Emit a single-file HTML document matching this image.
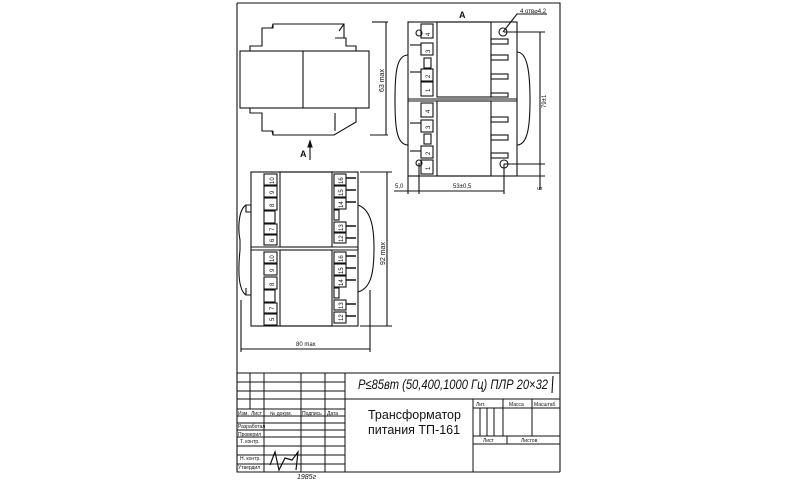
<!DOCTYPE html>
<html><head><meta charset="utf-8"><style>
html,body{margin:0;padding:0;background:#fff;width:800px;height:480px;overflow:hidden}
svg{display:block}
text{font-family:"Liberation Sans","DejaVu Sans",sans-serif;fill:#111}
</style></head><body>
<svg width="800" height="480" viewBox="0 0 800 480" xmlns="http://www.w3.org/2000/svg" stroke="#111" fill="none" stroke-width="1.1">
<!-- frame -->
<path d="M237 3 H560 V472 M237 3 V472 H560"/>
<!-- top-left view -->
<rect x="240" y="51" width="129" height="57"/>
<line x1="303" y1="51" x2="303" y2="108"/>
<path d="M250 51 V46 H262 V28 H272 L273 24 H344 V38 H346 V46 H356 V51"/>
<path d="M273 24 V28 H262 M344 24 L339 31 M335 38 H346"/>
<path d="M250 108 V113 H262 V131 H272 L273 135 H334 L356 122 V108 M273 131 H262 M335 113 V131"/>
<path d="M273 135 V131"/>
<line x1="372" y1="22" x2="388" y2="22"/><line x1="370" y1="135" x2="388" y2="135"/>
<line x1="386" y1="22" x2="386" y2="135"/>
<text x="0" y="0" font-size="7" stroke="none" transform="translate(384 92) rotate(-90)">63 max</text>
<text x="300" y="157" font-size="9" font-weight="bold" stroke="none">A</text>
<path d="M310 160 V143 M308 147 L310 141 L312 147Z" fill="#111"/>
<!-- top-right view A -->
<text x="459" y="18" font-size="9" font-weight="bold" stroke="none">A</text>
<rect x="408" y="22" width="109" height="154"/>
<line x1="408" y1="99" x2="517" y2="99"/><line x1="408" y1="101" x2="517" y2="101"/>
<rect x="437" y="22" width="54" height="75"/><rect x="437" y="101" width="54" height="75"/>
<path d="M408 55 C396 55 395 75 395 100 C395 125 396 145 408 145"/>
<path d="M517 52 C528 52 530 75 530 100 C530 125 528 145 517 145"/>
<g>
<rect x="421" y="43" width="12" height="12"/><rect x="421" y="69" width="12" height="12"/>
<rect x="421" y="82" width="12" height="14"/><rect x="421" y="24" width="12" height="14"/>
<rect x="421" y="103" width="12" height="14"/><rect x="421" y="120" width="12" height="12"/>
<rect x="421" y="146" width="12" height="12"/><rect x="421" y="160" width="12" height="14"/>
<rect x="424" y="58" width="7" height="10"/><rect x="424" y="134" width="7" height="10"/>
<line x1="410" y1="45" x2="421" y2="45"/><line x1="410" y1="72" x2="421" y2="72"/>
<line x1="410" y1="123" x2="421" y2="123"/><line x1="410" y1="151" x2="421" y2="151"/>
</g>
<g font-size="6" stroke="none" fill="#111">
<text transform="translate(430 36) rotate(-90)">4</text><text transform="translate(430 53) rotate(-90)">3</text>
<text transform="translate(430 78) rotate(-90)">2</text><text transform="translate(430 92) rotate(-90)">1</text>
<text transform="translate(430 113) rotate(-90)">4</text><text transform="translate(430 129) rotate(-90)">3</text>
<text transform="translate(430 155) rotate(-90)">2</text><text transform="translate(430 170) rotate(-90)">1</text>
</g>
<g>
<rect x="491" y="39" width="17" height="5"/><rect x="491" y="55" width="17" height="5"/>
<rect x="491" y="74" width="17" height="5"/><rect x="491" y="93" width="17" height="4"/>
<rect x="491" y="117" width="17" height="5"/><rect x="491" y="135" width="17" height="5"/>
<rect x="491" y="153" width="17" height="5"/>
</g>
<circle cx="419" cy="33" r="3"/><circle cx="503" cy="32" r="4"/>
<circle cx="419" cy="163" r="3"/><circle cx="504" cy="164" r="4"/>
<path d="M503 32 L517 14 H547"/>
<text x="520" y="13" font-size="6" stroke="none">4 отв⌀4,2</text>
<line x1="504" y1="32" x2="545" y2="32"/><line x1="504" y1="164" x2="545" y2="164"/>
<line x1="517" y1="176" x2="545" y2="176"/>
<line x1="540" y1="32" x2="540" y2="164"/>
<text font-size="6" stroke="none" transform="translate(546 108) rotate(-90)">79±1</text>
<line x1="540" y1="164" x2="540" y2="190"/>
<text font-size="6" stroke="none" transform="translate(542 190) rotate(-90)">5</text>
<line x1="408" y1="176" x2="408" y2="194"/><line x1="419" y1="163" x2="419" y2="194"/><line x1="504" y1="164" x2="504" y2="194"/>
<line x1="394" y1="191" x2="504" y2="191"/>
<text x="395" y="188" font-size="6" stroke="none">5,0</text>
<text x="453" y="188" font-size="6" stroke="none">53±0,5</text>
<!-- bottom-left view -->
<rect x="251" y="172" width="107" height="154"/>
<line x1="251" y1="247" x2="358" y2="247"/><line x1="251" y1="250" x2="358" y2="250"/>
<rect x="280" y="172" width="52" height="75"/><rect x="280" y="250" width="52" height="76"/>
<path d="M251 205 H246 C238 210 238 230 240 240 V250 C238 270 238 290 246 295 H251 M246 205 V212 H251 M246 288 V295"/>
<path d="M358 205 C372 210 374 230 374 248 C374 270 372 288 358 292"/>
<g>
<rect x="264" y="174" width="13" height="11"/><rect x="264" y="186" width="13" height="11"/>
<rect x="264" y="198" width="13" height="12"/><rect x="264" y="211" width="11" height="12"/>
<rect x="264" y="224" width="13" height="10"/><rect x="264" y="235" width="13" height="10"/>
<rect x="264" y="252" width="13" height="11"/><rect x="264" y="264" width="13" height="11"/>
<rect x="264" y="277" width="13" height="12"/><rect x="264" y="290" width="11" height="12"/>
<rect x="264" y="303" width="13" height="10"/><rect x="264" y="314" width="13" height="11"/>
<rect x="334" y="174" width="12" height="11"/><rect x="334" y="186" width="12" height="11"/>
<rect x="334" y="198" width="12" height="11"/><rect x="334" y="210" width="5" height="10"/>
<rect x="334" y="222" width="12" height="10"/><rect x="334" y="233" width="12" height="10"/>
<rect x="334" y="252" width="12" height="11"/><rect x="334" y="264" width="12" height="11"/>
<rect x="334" y="276" width="12" height="11"/><rect x="334" y="288" width="5" height="10"/>
<rect x="334" y="300" width="12" height="10"/><rect x="334" y="312" width="12" height="11"/>
</g>
<g stroke-width="1.5">
<path d="M346 178 H356 M346 190 H356 M346 202 H356 M346 226 H356 M346 238 H356 M346 256 H356 M346 268 H356 M346 280 H356 M346 304 H356 M346 316 H356"/>
</g>
<g font-size="6" stroke="none" fill="#111">
<text transform="translate(274 184) rotate(-90)">10</text><text transform="translate(274 194) rotate(-90)">9</text>
<text transform="translate(274 207) rotate(-90)">8</text><text transform="translate(274 231) rotate(-90)">7</text>
<text transform="translate(274 242) rotate(-90)">6</text>
<text transform="translate(274 262) rotate(-90)">10</text><text transform="translate(274 272) rotate(-90)">9</text>
<text transform="translate(274 286) rotate(-90)">8</text><text transform="translate(274 310) rotate(-90)">7</text>
<text transform="translate(274 321) rotate(-90)">5</text>
<text transform="translate(343 184) rotate(-90)">16</text><text transform="translate(343 196) rotate(-90)">15</text>
<text transform="translate(343 208) rotate(-90)">14</text><text transform="translate(343 231) rotate(-90)">13</text>
<text transform="translate(343 242) rotate(-90)">12</text>
<text transform="translate(343 262) rotate(-90)">16</text><text transform="translate(343 274) rotate(-90)">15</text>
<text transform="translate(343 286) rotate(-90)">14</text><text transform="translate(343 309) rotate(-90)">13</text>
<text transform="translate(343 321) rotate(-90)">12</text>
</g>
<line x1="360" y1="172" x2="392" y2="172"/><line x1="360" y1="326" x2="392" y2="326"/>
<line x1="387" y1="172" x2="387" y2="326"/>
<text font-size="7" stroke="none" transform="translate(385 265) rotate(-90)">92 max</text>
<line x1="241" y1="300" x2="241" y2="352"/><line x1="370" y1="290" x2="370" y2="352"/>
<line x1="241" y1="349" x2="370" y2="349"/>
<text x="296" y="346" font-size="6" stroke="none">80 max</text>
<!-- title block -->
<g stroke-width="1">
<line x1="237" y1="373" x2="560" y2="373"/>
<path d="M237 382 H345 M237 391 H345 M237 399 H560 M237 409 H345 M237 416 H345 M237 423 H345 M237 430 H345 M237 437 H345 M237 446 H345 M237 455 H345 M237 464 H345"/>
<path d="M250 373 V409 M264 373 V472 M301 373 V472 M325 373 V472 M345 373 V472"/>
<path d="M473 399 V472 M473 408 H560 M473 436 H560 M473 444 H560 M480 408 V436 M487 408 V436 M494 408 V436 M503 399 V436 M532 399 V436 M507 436 V444"/>
</g>
<g font-size="5" stroke="none">
<text x="238" y="415">Изм.</text><text x="251" y="415">Лист</text><text x="270" y="415">№ докум.</text><text x="302" y="415">Подпись</text><text x="327" y="415">Дата</text>
<text x="238" y="428">Разработал</text><text x="238" y="436">Проверил</text><text x="240" y="443">Т. контр.</text>
<text x="240" y="460">Н. контр.</text><text x="238" y="469">Утвердил</text>
<text x="476" y="406">Лит.</text><text x="509" y="406">Масса</text><text x="534" y="406">Масштаб</text>
<text x="483" y="442">Лист</text><text x="521" y="442">Листов</text>
</g>
<text x="368" y="419" font-size="12.5" stroke="none">Трансформатор</text>
<text x="368" y="434" font-size="12.5" stroke="none">питания ТП-161</text>
<text x="358" y="389" font-size="14" font-style="italic" stroke="none" font-family="Liberation Serif" textLength="190" lengthAdjust="spacingAndGlyphs">P≤85вт (50,400,1000 Гц) ПЛР 20×32</text>
<line x1="553" y1="376" x2="552" y2="393"/>
<path d="M270 465 L275 452 L279 470 L285 458 L292 460 L298 452 L296 470" stroke-width="1.2"/>
<text x="297" y="479" font-size="7" font-style="italic" stroke="none">1985г</text>
</svg>
</body></html>
